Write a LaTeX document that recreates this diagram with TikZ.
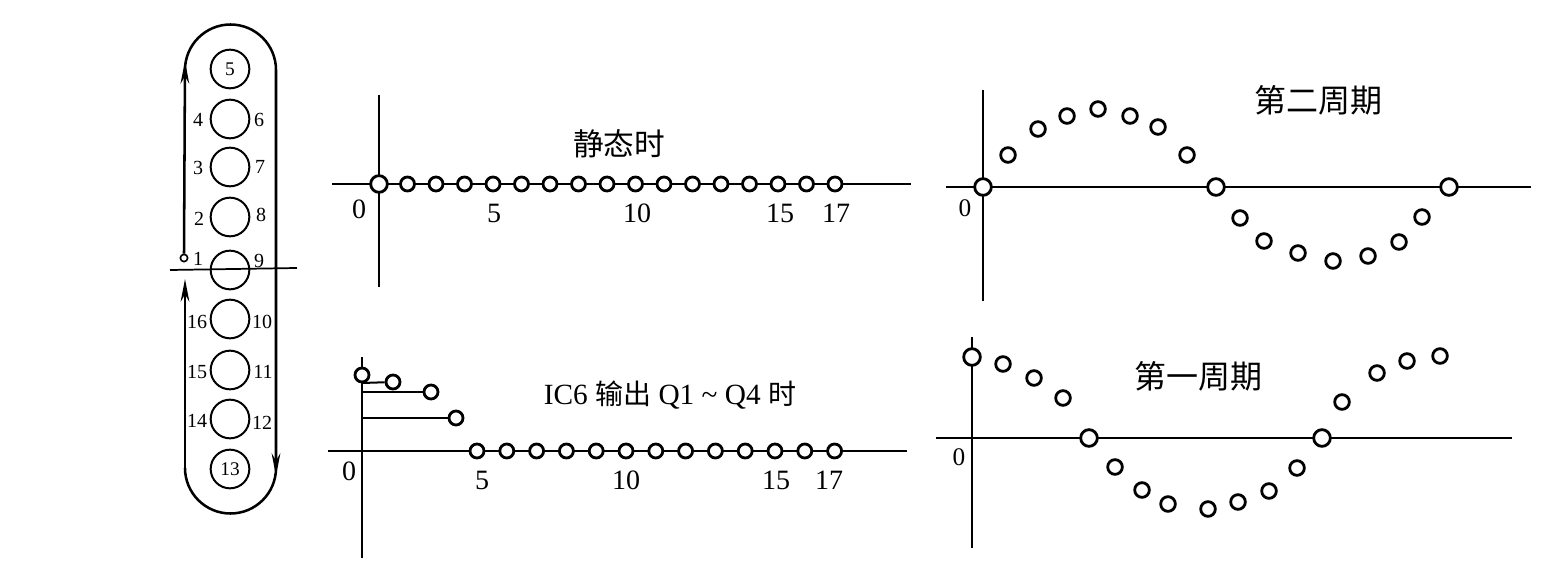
\documentclass[tikz,border=0pt]{standalone}
\usepackage{fontspec}
\setmainfont{Liberation Serif}
\newfontfamily\cjk{Noto Sans CJK SC}
\usetikzlibrary{arrows.meta}
\begin{document}
\begin{tikzpicture}[x=0.75pt,y=-0.75pt,
  axis/.style={line width=1.5pt},
  raxis/.style={line width=1.3pt},
  pt/.style={circle, draw, fill=white, line width=2.1pt, minimum size=10.5pt, inner sep=0pt},
  ptbig/.style={pt, minimum size=12.5pt},
  rpt/.style={circle, draw, fill=white, line width=2.1pt, minimum size=11pt, inner sep=0pt},
  rptbig/.style={rpt, minimum size=12.5pt},
  num/.style={font=\fontsize{21}{21}\selectfont, inner sep=0pt},
  rnum/.style={font=\fontsize{19}{19}\selectfont, inner sep=0pt},
  lbl/.style={font=\fontsize{15}{15}\selectfont, inner sep=0pt},
  cyl/.style={circle, draw, line width=1.5pt, minimum size=29pt, inner sep=0pt, font=\fontsize{14.5}{14.5}\selectfont},
  outline/.style={line width=1.9pt},
  arr/.style={-{Stealth[length=17pt,width=6.5pt]}},
  ttl/.style={font=\cjk\fontsize{23}{23}\selectfont, inner sep=0pt}
]
\useasboundingbox[fill=white] (0,0) rectangle (1549,573);

% ---------------- left panel ----------------
\coordinate (oTL) at (185,70);
\coordinate (oBR) at (276,468);
\coordinate (oBL) at (185,468);
\coordinate (tipT) at (185,61);
\coordinate (tipB) at (185,279);
\coordinate (rA) at (276,430);
\coordinate (tipR) at (276,476);
\coordinate (hl) at (170,270);
\coordinate (hr) at (297,268);

\draw[outline] (oTL) arc[start angle=180, end angle=360, radius=45.5] -- (oBR)
  arc[start angle=0, end angle=180, radius=45.5];
\node[circle, draw, line width=1.2pt, minimum size=5.5pt, inner sep=0pt, fill=white] (s1) at (184,258) {};
\draw[outline, arr] (s1.north) -- (tipT);
\draw[outline, arr] (oBL) -- (tipB);
\draw[outline, arr] (rA) -- (tipR);

\node[cyl] (c5) at (230,69) {5};
\node[cyl] (c4) at (230,119) {};
\node[cyl] (c3) at (230,167) {};
\node[cyl] (c2) at (230,217) {};
\node[cyl] (c1) at (230,270) {};
\node[cyl] (c16) at (230,319) {};
\node[cyl] (c15) at (230,370) {};
\node[cyl] (c14) at (230,419) {};
\node[cyl] (c13) at (230,469) {13};
\draw[line width=1.3pt] (hl) -- (hr);

\node[lbl] (l4) at (198,120) {4};
\node[lbl] (l6) at (259,120) {6};
\node[lbl] (l3) at (198,168) {3};
\node[lbl] (l7) at (260,167) {7};
\node[lbl] (l2) at (199,219) {2};
\node[lbl] (l8) at (261,215) {8};
\node[lbl] (l1) at (198,259) {1};
\node[lbl] (l9) at (259,261) {9};
\node[lbl] (l16) at (197,322) {16};
\node[lbl] (l10) at (262,322) {10};
\node[lbl] (l15) at (197,372) {15};
\node[lbl] (l11) at (263,372) {11};
\node[lbl] (l14) at (197,421) {14};
\node[lbl] (l12) at (262,423) {12};

% ---------------- middle top ----------------
\coordinate (tmL) at (332,184);
\coordinate (tmR) at (911,184);
\coordinate (tmT) at (379,95);
\coordinate (tmB) at (379,287);
\draw[axis] (tmL) -- (tmR);
\draw[axis] (tmT) -- (tmB);
\node[ptbig] (t1) at (379,184) {};
\foreach \n in {2,...,17} {
  \node[pt] (t\n) at ({379+28.5*(\n-1)},184) {};
}
\node[num] (tn0) at (359,209) {0};
\node[num] (tn5) at (494,213) {5};
\node[num] (tn10) at (637,213) {10};
\node[num] (tn15) at (780,213) {15};
\node[num] (tn17) at (836,213) {17};
\node[ttl] (tt) at (619,144) {静态时};

% ---------------- middle bottom ----------------
\coordinate (bmL) at (328,451);
\coordinate (bmR) at (907,451);
\coordinate (bmT) at (362,357);
\coordinate (bmB) at (362,558);
\coordinate (st2) at (362,383);
\coordinate (st3) at (362,392);
\coordinate (st4) at (362,418);
\draw[axis] (bmL) -- (bmR);
\draw[axis] (bmT) -- (bmB);
\node[pt] (b2) at (393,382) {};
\node[pt] (b3) at (431,392) {};
\node[pt] (b4) at (456,418) {};
\draw[axis] (st2) -- (b2);
\draw[axis] (st3) -- (b3);
\draw[axis] (st4) -- (b4);
\node[pt] (b1) at (362,375) {};
\foreach \k in {0,...,12} {
  \node[pt] (bb\k) at ({477+29.8*\k},451) {};
}
\node[num] (bn0) at (349,471) {0};
\node[num] (bn5) at (482,480) {5};
\node[num] (bn10) at (626,480) {10};
\node[num] (bn15) at (776,480) {15};
\node[num] (bn17) at (829,480) {17};
\node[inner sep=0pt, font=\fontsize{22}{22}\selectfont] (bt) at (670,395)
  {IC6 {\cjk\fontsize{21}{21}\selectfont 输出} Q1 \textasciitilde{} Q4 {\cjk\fontsize{21}{21}\selectfont 时}};

% ---------------- right top ----------------
\coordinate (rtL) at (946,187);
\coordinate (rtR) at (1531,187);
\coordinate (rtT) at (983,90);
\coordinate (rtB) at (983,301);
\draw[raxis] (rtL) -- (rtR);
\draw[raxis] (rtT) -- (rtB);
\foreach \x/\y [count=\i] in {1008/155,1038/129,1067/116,1098/109,1130/116,1158/127,1187/155,
  1240/218,1264/241,1298/253,1333/261,1368/256,1399/242,1422/217} {
  \node[rpt] (rt\i) at (\x,\y) {};
}
\node[rptbig] (rtz1) at (983,187) {};
\node[rptbig] (rtz2) at (1216,187) {};
\node[rptbig] (rtz3) at (1449,187) {};
\node[rnum] (rtn0) at (965,208) {0};
\node[ttl, font=\cjk\fontsize{24}{24}\selectfont] (rtt) at (1318,100) {第二周期};

% ---------------- right bottom ----------------
\coordinate (rbL) at (936,438);
\coordinate (rbR) at (1512,438);
\coordinate (rbT) at (972,337);
\coordinate (rbB) at (972,548);
\draw[raxis] (rbL) -- (rbR);
\draw[raxis] (rbT) -- (rbB);
\foreach \x/\y [count=\i] in {1003/364,1034/378,1063/398,1115/467,1142/490,1168/504,1208/509,
  1238/502,1269/491,1297/468,1342/402,1377/373,1407/361,1440/356} {
  \node[rpt] (rb\i) at (\x,\y) {};
}
\node[rptbig] (rbz1) at (972,357) {};
\node[rptbig] (rbz2) at (1089,438) {};
\node[rptbig] (rbz3) at (1322,438) {};
\node[rnum] (rbn0) at (959,457) {0};
\node[ttl, font=\cjk\fontsize{24}{24}\selectfont] (rbt) at (1198,376) {第一周期};
\end{tikzpicture}
\end{document}
